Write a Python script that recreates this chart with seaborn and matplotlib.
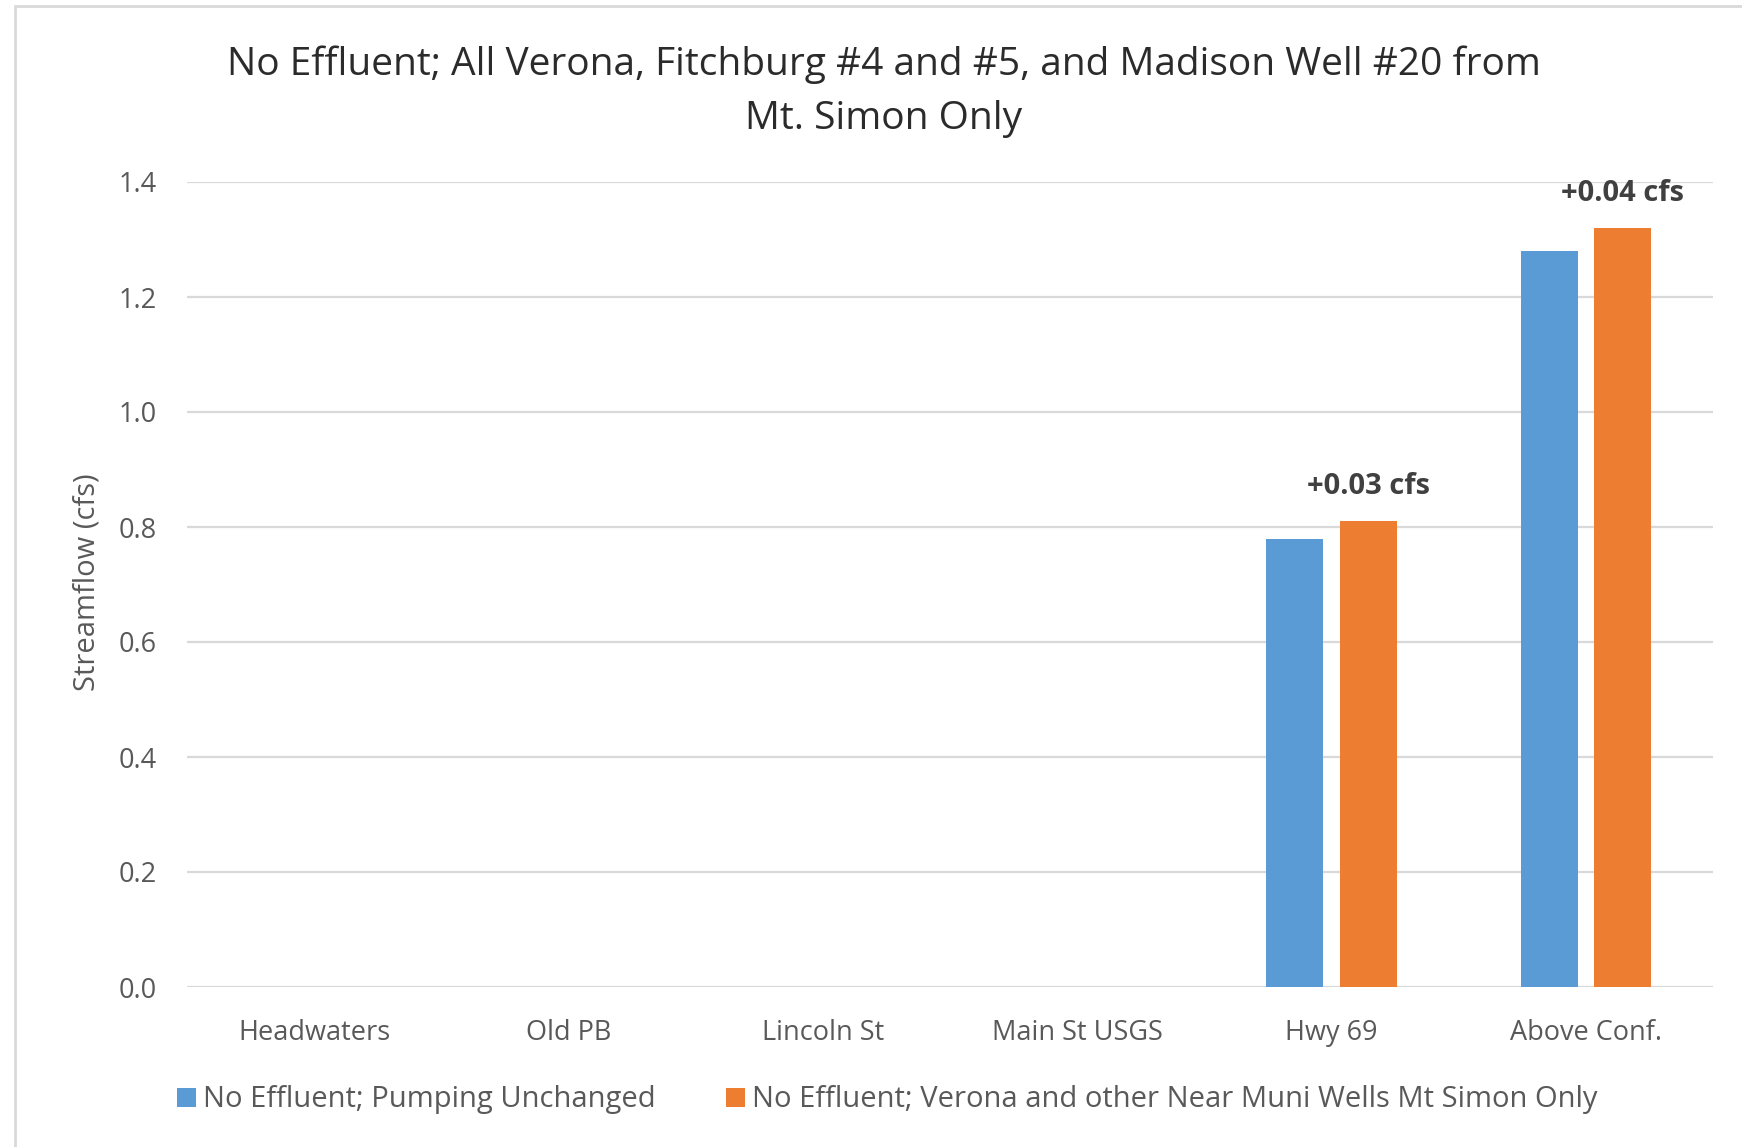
import numpy as np
import pandas as pd
import matplotlib
matplotlib.use("Agg")
import matplotlib.pyplot as plt
from matplotlib.patches import Patch, Rectangle
import seaborn as sns

# Streamflow at each gauge location along the creek (cfs)
locations = ["Headwaters", "Old PB", "Lincoln St", "Main St USGS", "Hwy 69", "Above Conf."]
pumping_unchanged = [0.0, 0.0, 0.0, 0.0, 0.78, 1.28]
mt_simon_only = [0.0, 0.0, 0.0, 0.0, 0.81, 1.32]

series_names = [
    "No Effluent; Pumping Unchanged",
    "No Effluent; Verona and other Near Muni Wells Mt Simon Only",
]
series_colors = ["#5B9BD5", "#ED7D31"]
y_ticks = [0.0, 0.2, 0.4, 0.6, 0.8, 1.0, 1.2, 1.4]

title_text = ("No Effluent; All Verona, Fitchburg #4 and #5, and Madison Well #20 from\n"
              "Mt. Simon Only")
y_label = "Streamflow (cfs)"

df = pd.DataFrame({
    "location": locations * 2,
    "flow": pumping_unchanged + mt_simon_only,
    "scenario": [series_names[0]] * len(locations) + [series_names[1]] * len(locations),
})

sns.set_theme(style="white")
plt.rcParams["font.family"] = ["Open Sans", "DejaVu Sans"]

W, H = 1742, 1147
fig = plt.figure(figsize=(W / 100, H / 100), dpi=100)
ax = fig.add_axes([187 / W, 1 - 987 / H, (1713 - 187) / W, (987 - 182) / H])

sns.barplot(
    data=df, x="location", y="flow", hue="scenario",
    order=locations, hue_order=series_names, palette=series_colors,
    width=0.575, gap=0.22, linewidth=0, saturation=1, legend=False, ax=ax,
    errorbar=None,
)

ax.set_ylim(0, 1.4)
ax.set_xlim(-0.5, len(locations) - 0.5)
ax.set_yticks(y_ticks)
ax.set_yticklabels([f"{v:.1f}" for v in y_ticks])
ax.yaxis.grid(True, color="#D9D9D9", linewidth=1.6)
ax.set_axisbelow(True)
for s in ax.spines.values():
    s.set_visible(False)
ax.tick_params(axis="y", length=0, pad=22, labelsize=19.5, labelcolor="#595959")
ax.tick_params(axis="x", length=0, pad=23, labelsize=19.5, labelcolor="#595959")
ax.set_xlabel("")
ax.set_ylabel(y_label, fontsize=21, color="#595959")
ax.yaxis.set_label_coords(-0.056, 0.503)

# Change labels above the second-scenario bars
orange_bars = ax.containers[1]
for i, (a, b) in enumerate(zip(pumping_unchanged, mt_simon_only)):
    if a > 0 and b > 0:
        bar = orange_bars[i]
        xc = bar.get_x() + bar.get_width() / 2
        ax.annotate(f"+{b - a:.2f} cfs", xy=(xc, b), xytext=(0, 25),
                    textcoords="offset points", ha="center", va="center",
                    fontsize=21, fontweight="bold", color="#404040")

fig.text(884 / W, 1 - 92 / H, title_text, ha="center", va="center",
         fontsize=28, color="#2b2b2b", linespacing=1.54)

handles = [Patch(facecolor=c, edgecolor="none") for c in series_colors]
fig.legend(handles, series_names, loc="center", bbox_to_anchor=(887 / W, 1 - 1100 / H),
           ncol=2, frameon=False, fontsize=21, labelcolor="#595959",
           handlelength=0.65, handleheight=0.65, handletextpad=0.25, columnspacing=2.4)

# Chart-area frame
fig.patches.append(Rectangle((15 / W, -0.01), 1.05, 1 - 6 / H + 0.01, transform=fig.transFigure,
                             fill=False, edgecolor="#D9D9D9", linewidth=2))

fig.savefig("out.png", dpi=100, facecolor="white")
